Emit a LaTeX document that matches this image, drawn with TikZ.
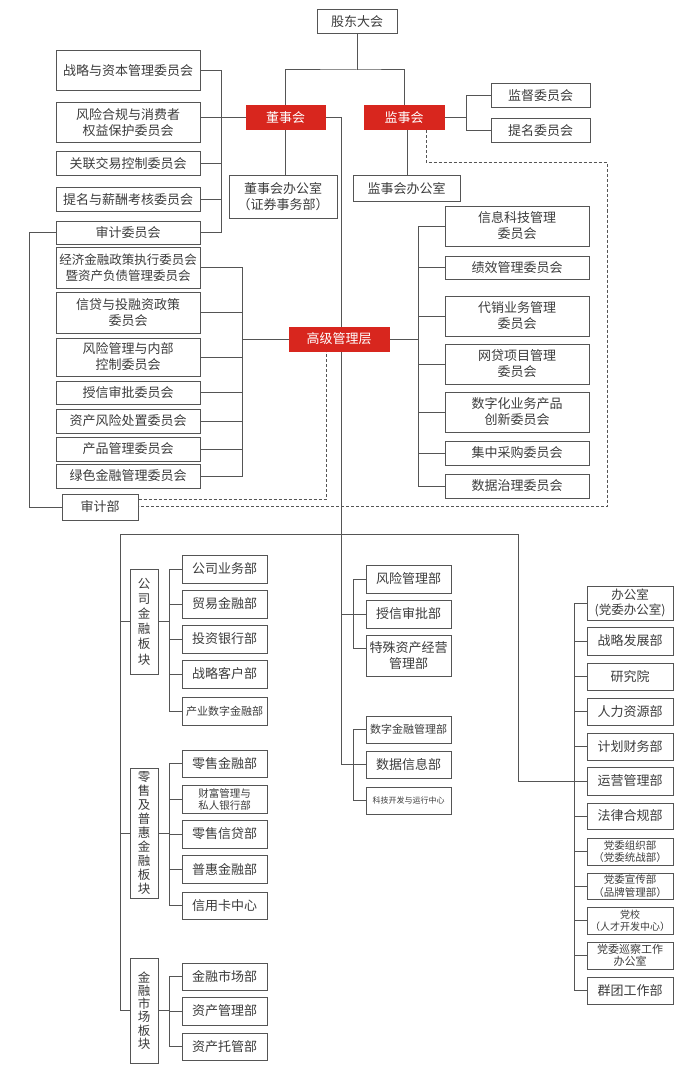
\documentclass[tikz,border=0pt]{standalone}
\usepackage{fontspec}
\setmainfont{Noto Sans CJK SC}
\usetikzlibrary{backgrounds}
\definecolor{linec}{HTML}{555555}
\definecolor{textc}{HTML}{3C3C3C}
\definecolor{redc}{HTML}{D8261E}
\tikzset{
 box/.style={draw=linec, line width=1pt, fill=white, inner sep=0pt, text=textc, align=center, font=\fontsize{13}{16}\selectfont},
 redbox/.style={box, draw=redc, fill=redc, text=white},
 conn/.style={draw=linec, line width=1pt},
 dashline/.style={draw=linec, line width=1pt, dash pattern=on 3pt off 2pt},
 sm/.style={font=\fontsize{11}{13}\selectfont},
 vt/.style={font=\fontsize{12.5}{#1}\selectfont},
}
\newcommand\bx[7][]{%
 \pgfmathsetmacro\cx{(#3+#5)/2}\pgfmathsetmacro\cy{(#4+#6)/2}%
 \pgfmathsetmacro\ww{#5-#3}\pgfmathsetmacro\hh{#6-#4}%
 \node[box,minimum width=\ww pt,minimum height=\hh pt,#1] (#2) at (\cx,\cy) {#7};}
\begin{document}
\begin{tikzpicture}[x=1pt,y=-1pt]
\useasboundingbox (0,0) rectangle (700,1078);
% top
\bx{gd}{317}{10}{397}{34}{股东大会}
\bx[redbox]{dsh}{246}{106}{325}{130}{董事会}
\bx[redbox]{jsh}{364}{106}{444}{130}{监事会}
% board committees
\bx{zl}{56}{51}{200}{91}{战略与资本管理委员会}
\bx{fx}{56}{103}{200}{143}{风险合规与消费者\\权益保护委员会}
\bx{gl}{56}{152}{200}{176}{关联交易控制委员会}
\bx{tm}{56}{188}{200}{211}{提名与薪酬考核委员会}
\bx{sj}{56}{221}{200}{244}{审计委员会}
\bx{dsbgs}{229}{176}{337}{218}{董事会办公室\\（证券事务部）}
% supervisory
\bx{jw}{491}{84}{590}{108}{监督委员会}
\bx{tmw}{491}{119}{590}{143}{提名委员会}
\bx{jsbgs}{353}{176}{460}{201}{监事会办公室}
% senior management
\bx[redbox]{gjgl}{289}{327}{389}{351}{高级管理层}
\bx[font=\fontsize{12.5}{16}\selectfont]{jj}{56}{247}{200}{288}{经济金融政策执行委员会\\暨资产负债管理委员会}
\bx{xd}{56}{292}{200}{333}{信贷与投融资政策\\委员会}
\bx{fk}{56}{338}{200}{376}{风险管理与内部\\控制委员会}
\bx{sx}{56}{381}{200}{404}{授信审批委员会}
\bx{zc}{56}{409}{200}{433}{资产风险处置委员会}
\bx{cp}{56}{437}{200}{461}{产品管理委员会}
\bx{ls}{56}{464}{200}{488}{绿色金融管理委员会}
\bx{xk}{445}{206}{589}{246}{信息科技管理\\委员会}
\bx{jx}{445}{256}{589}{279}{绩效管理委员会}
\bx{dx}{445}{296}{589}{336}{代销业务管理\\委员会}
\bx{wd}{445}{344}{589}{384}{网贷项目管理\\委员会}
\bx{sz}{445}{392}{589}{432}{数字化业务产品\\创新委员会}
\bx{jc}{445}{441}{589}{465}{集中采购委员会}
\bx{sjzl}{445}{474}{589}{498}{数据治理委员会}
\bx{sjb}{62}{494}{138}{520}{审计部}
% sectors
\bx[vt=15.2]{gs}{130}{569}{158}{674}{公\\司\\金\\融\\板\\块}
\bx[vt=14]{lsb}{130}{768}{158}{898}{零\\售\\及\\普\\惠\\金\\融\\板\\块}
\bx[vt=13.3]{jr}{130}{958}{158}{1063}{金\\融\\市\\场\\板\\块}
\bx{c1}{182}{555}{267}{583}{公司业务部}
\bx{c2}{182}{590}{267}{618}{贸易金融部}
\bx{c3}{182}{625}{267}{653}{投资银行部}
\bx{c4}{182}{660}{267}{688}{战略客户部}
\bx[sm]{c5}{182}{697}{267}{725}{产业数字金融部}
\bx{r1}{182}{750}{267}{777}{零售金融部}
\bx[font=\fontsize{10.5}{12}\selectfont]{r2}{182}{785}{267}{813}{财富管理与\\私人银行部}
\bx{r3}{182}{820}{267}{848}{零售信贷部}
\bx{r4}{182}{855}{267}{883}{普惠金融部}
\bx{r5}{182}{892}{267}{919}{信用卡中心}
\bx{m1}{182}{963}{267}{990}{金融市场部}
\bx{m2}{182}{997}{267}{1025}{资产管理部}
\bx{m3}{182}{1033}{267}{1060}{资产托管部}
% middle column
\bx{fx2}{366}{565}{451}{593}{风险管理部}
\bx{sxb}{366}{600}{451}{628}{授信审批部}
\bx{ts}{366}{635}{451}{676}{特殊资产经营\\管理部}
\bx[sm]{sz2}{366}{716}{451}{743}{数字金融管理部}
\bx{sjxx}{366}{751}{451}{778}{数据信息部}
\bx[font=\fontsize{8}{10}\selectfont]{kj}{366}{787}{451}{814}{科技开发与运行中心}
% right column
\bx[font=\fontsize{12.5}{15}\selectfont]{o1}{587}{586}{673}{620}{办公室\\(党委办公室)}
\bx{o2}{587}{627}{673}{655}{战略发展部}
\bx{o3}{587}{663}{673}{690}{研究院}
\bx{o4}{587}{698}{673}{725}{人力资源部}
\bx{o5}{587}{733}{673}{760}{计划财务部}
\bx{o6}{587}{767}{673}{795}{运营管理部}
\bx{o7}{587}{803}{673}{829}{法律合规部}
\bx[font=\fontsize{10.5}{12.5}\selectfont]{o8}{587}{838}{673}{865}{党委组织部\\（党委统战部）}
\bx[font=\fontsize{10.5}{12.5}\selectfont]{o9}{587}{873}{673}{899}{党委宣传部\\（品牌管理部）}
\bx[font=\fontsize{10}{12.5}\selectfont]{o10}{587}{907}{673}{934}{党校\\（人才开发中心）}
\bx[font=\fontsize{11}{12.5}\selectfont]{o11}{587}{942}{673}{969}{党委巡察工作\\办公室}
\bx{o12}{587}{977}{673}{1004}{群团工作部}
% coordinates
\coordinate (jn) at (357,70);
\coordinate (bL) at (221,0);
\coordinate (bJ) at (466,0);
\coordinate (jv) at (407,0);
\coordinate (mv) at (341,0);
\coordinate (bG) at (242,0);
\coordinate (bS) at (418,0);
\coordinate (aL) at (29,0);
\coordinate (d1) at (426,163);
\coordinate (d2) at (607,163);
\coordinate (d3) at (607,506);
\coordinate (d4) at (326,499);
\coordinate (hL) at (120,534);
\coordinate (hR) at (518,534);
\coordinate (sb) at (169,0);
\coordinate (sb2) at (353,0);
\coordinate (tsy) at (0,648);
\coordinate (bR) at (574,0);
\begin{scope}[on background layer]
\fill[white] (0,0) rectangle (700,1078);
% top
\draw[conn] (gd.south) -- (jn);
\draw[conn] (dsh.north) |- (jn) -| (jsh.north);
% board committees
\draw[conn] (zl.east) -- (zl.east -| bL) -- (sj.east -| bL) -- (sj.east);
\draw[conn] (fx.east |- dsh.west) -- (dsh.west);
\draw[conn] (gl.east) -- (gl.east -| bL);
\draw[conn] (tm.east) -- (tm.east -| bL);
\draw[conn] (dsh.south) -- (dsh.south |- dsbgs.north);
% supervisory
\draw[conn] (jsh.east) -- (jsh.east -| bJ);
\draw[conn] (jw.west) -- (jw.west -| bJ) -- (tmw.west -| bJ) -- (tmw.west);
\draw[conn] (jsh.south -| jv) -- (jsbgs.north -| jv);
% main vertical
\draw[conn] (dsh.east) -| (sjxx.west -| mv) -- (sjxx.west);
% senior left
\draw[conn] (jj.east) -- (jj.east -| bG) -- (ls.east -| bG) -- (ls.east);
\foreach \n in {xd,fk,sx,zc,cp} \draw[conn] (\n.east) -- (\n.east -| bG);
\draw[conn] (gjgl.west) -- (gjgl.west -| bG);
% senior right
\draw[conn] (xk.west) -- (xk.west -| bS) -- (sjzl.west -| bS) -- (sjzl.west);
\foreach \n in {jx,dx,wd,sz,jc} \draw[conn] (\n.west) -- (\n.west -| bS);
\draw[conn] (gjgl.east) -- (gjgl.east -| bS);
% audit
\draw[conn] (sj.west) -| (sjb.west -| aL) -- (sjb.west);
% dashed
\draw[dashline] (jsh.south -| d1) -- (d1) -- (d2) -- (d3) -- (d3 -| sjb.east);
\draw[dashline] (d4 -| sjb.east) -- (d4) -- (d4 |- gjgl.south);
% bottom bus
\draw[conn] (hL) -- (hR);
\draw[conn] (hL) |- (jr.west);
\draw[conn] (gs.west -| hL) -- (gs.west);
\draw[conn] (lsb.west -| hL) -- (lsb.west);
% sector subs
\draw[conn] (gs.east) -- (gs.east -| sb);
\draw[conn] (c1.west) -- (c1.west -| sb) -- (c5.west -| sb) -- (c5.west);
\foreach \n in {c2,c3,c4} \draw[conn] (\n.west) -- (\n.west -| sb);
\draw[conn] (lsb.east) -- (lsb.east -| sb);
\draw[conn] (r1.west) -- (r1.west -| sb) -- (r5.west -| sb) -- (r5.west);
\foreach \n in {r2,r3,r4} \draw[conn] (\n.west) -- (\n.west -| sb);
\draw[conn] (jr.east) -- (jr.east -| sb);
\draw[conn] (m1.west) -- (m1.west -| sb) -- (m3.west -| sb) -- (m3.west);
\draw[conn] (m2.west) -- (m2.west -| sb);
% middle
\draw[conn] (sxb.west -| mv) -- (sxb.west);
\draw[conn] (fx2.west) -- (fx2.west -| sb2) -- (tsy -| sb2) -- (ts.west |- tsy);
\draw[conn] (sz2.west) -- (sz2.west -| sb2) -- (kj.west -| sb2) -- (kj.west);
% right column
\draw[conn] (o1.west) -- (o1.west -| bR) -- (o12.west -| bR) -- (o12.west);
\foreach \n in {o2,o3,o4,o5,o7,o8,o9,o10,o11} \draw[conn] (\n.west) -- (\n.west -| bR);
\draw[conn] (hR) |- (o6.west);
\end{scope}
\end{tikzpicture}
\end{document}
